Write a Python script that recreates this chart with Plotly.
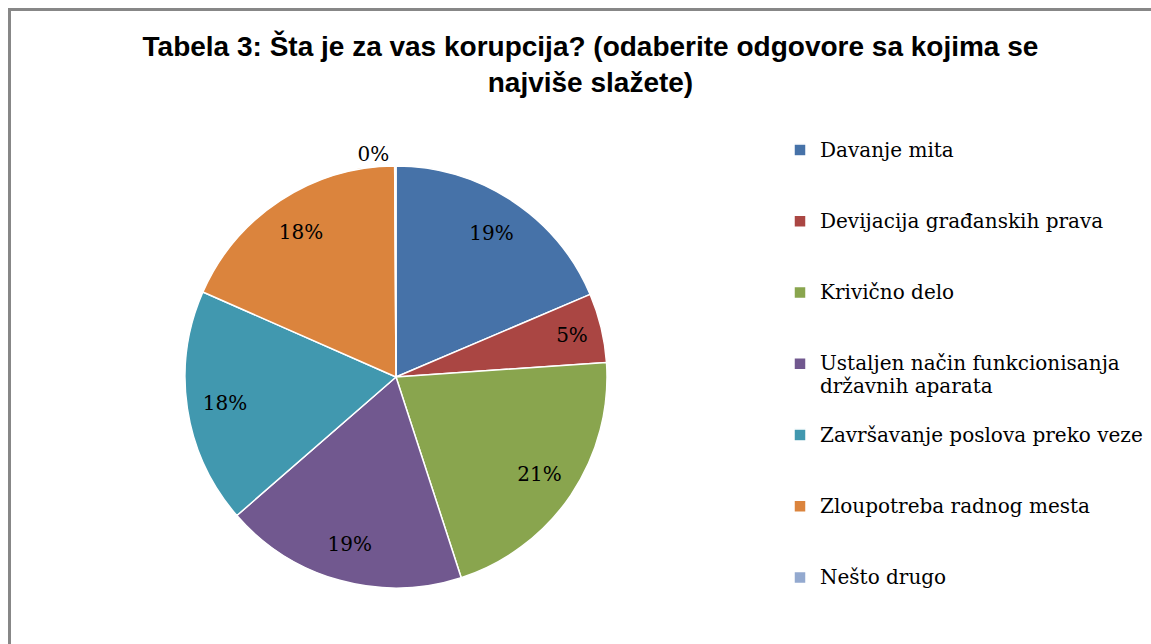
import plotly.graph_objects as go

categories = [
    "Davanje mita",
    "Devijacija građanskih prava",
    "Krivično delo",
    "Ustaljen način funkcionisanja<br>državnih aparata",
    "Završavanje poslova preko veze",
    "Zloupotreba radnog mesta",
    "Nešto drugo",
]
values = [18.6, 5.3, 21.1, 18.6, 18.0, 18.3, 0.1]
colors = ["#4672A8", "#AA4643", "#89A54E", "#71588F", "#4198AF", "#DB843D", "#93A9CF"]

# pad each legend entry to three lines so entries are evenly spaced
legend_labels = []
for c in categories:
    lines = c.split("<br>")
    lines = ['<span style="font-size:20px">' + ln + "</span>" for ln in lines]
    lines += [" "] * (3 - len(lines))
    legend_labels.append("<br>".join(lines))

positions = ["inside"] * (len(values) - 1) + ["outside"]
pie_domain = dict(x=[185 / 1151, 607 / 1151], y=[1 - 588 / 644, 1 - 166 / 644])

fig = go.Figure()
# coloured pie
fig.add_trace(go.Pie(
    labels=legend_labels,
    values=values,
    sort=False,
    direction="clockwise",
    rotation=0,
    marker=dict(colors=colors, line=dict(color="white", width=1.5)),
    textinfo="none",
    domain=pie_domain,
    hoverinfo="percent",
))
# transparent ring carrying the percentage labels (places them toward the rim)
fig.add_trace(go.Pie(
    labels=legend_labels,
    values=values,
    sort=False,
    direction="clockwise",
    rotation=0,
    hole=0.64,
    marker=dict(colors=["rgba(0,0,0,0)"] * len(values), line=dict(width=0)),
    texttemplate="%{percent:.0%}",
    textposition=positions,
    insidetextorientation="horizontal",
    textfont=dict(family="DejaVu Serif", size=20, color="black"),
    domain=pie_domain,
    hoverinfo="skip",
    showlegend=False,
))

fig.update_layout(
    width=1151, height=644,
    margin=dict(l=0, r=0, t=0, b=0),
    paper_bgcolor="white",
    plot_bgcolor="white",
    title=dict(
        text="<b>Tabela 3: Šta je za vas korupcija? (odaberite odgovore sa kojima se<br>najviše slažete)</b>",
        x=0.513, xanchor="center", y=0.913, yanchor="top",
        font=dict(family="Liberation Sans, sans-serif", size=28, color="black"),
    ),
    legend=dict(
        x=780 / 1151, xanchor="left", y=1 - 132 / 644, yanchor="top",
        font=dict(family="DejaVu Serif", size=17.5, color="black"),
        valign="top",
        bgcolor="rgba(0,0,0,0)",
        traceorder="normal",
    ),
    shapes=[dict(
        type="rect", xref="paper", yref="paper",
        x0=9.5 / 1151, x1=1.02, y0=-0.02, y1=1 - 9.5 / 644,
        line=dict(color="#878787", width=3),
        fillcolor="rgba(0,0,0,0)",
        layer="below",
    )],
)

fig.write_html("out.html", config={"displayModeBar": False},
               post_script="document.body.style.margin='0';")
